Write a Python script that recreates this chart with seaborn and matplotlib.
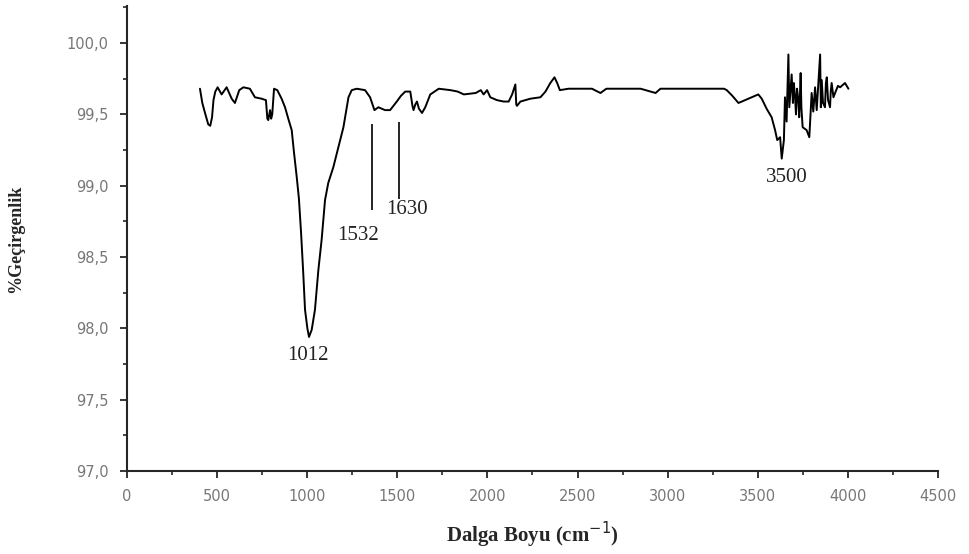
import matplotlib
matplotlib.use("Agg")
import matplotlib.pyplot as plt
from matplotlib.ticker import MultipleLocator, FuncFormatter
import seaborn as sns
import pandas as pd

# FTIR spectrum: wavenumber (cm-1) and transmittance (%)
wavenumber = [
    405, 418, 433, 451, 462, 472, 480, 490, 503, 525, 553, 581, 599, 623, 646,
    682, 710, 747, 771, 779, 784, 794, 800, 806, 816, 834, 858, 877, 895, 914,
    927, 942, 954, 966, 978, 988, 1001, 1010, 1025, 1043, 1062, 1080, 1099,
    1117, 1145, 1173, 1201, 1229, 1247, 1275, 1321, 1349, 1373, 1395, 1432,
    1460, 1497, 1520, 1544, 1572, 1584, 1590, 1600, 1609, 1620, 1637, 1655,
    1683, 1730, 1795, 1835, 1869, 1935, 1963, 1979, 1998, 2016, 2053, 2090,
    2118, 2137, 2155, 2160, 2164, 2183, 2238, 2294, 2322, 2349, 2372, 2387,
    2402, 2450, 2520, 2580, 2627, 2660, 2750, 2850, 2933, 2960, 3050, 3150,
    3250, 3313, 3328, 3359, 3393, 3430, 3467, 3503, 3522, 3549, 3577, 3596,
    3608, 3624, 3633, 3645, 3651, 3660, 3670, 3675, 3679, 3688, 3695, 3700,
    3707, 3712, 3718, 3725, 3730, 3738, 3742, 3749, 3760, 3771, 3786, 3799,
    3808, 3818, 3827, 3838, 3846, 3850, 3855, 3862, 3873, 3878, 3883, 3890,
    3901, 3905, 3910, 3920, 3929, 3945, 3957, 3984, 4003,
]
transmittance = [
    99.68, 99.58, 99.51, 99.43, 99.42, 99.48, 99.60, 99.66, 99.69, 99.64,
    99.69, 99.61, 99.58, 99.67, 99.69, 99.68, 99.62, 99.61, 99.60, 99.47,
    99.46, 99.53, 99.47, 99.50, 99.68, 99.67, 99.61, 99.55, 99.47, 99.39,
    99.23, 99.06, 98.91, 98.67, 98.39, 98.13, 98.00, 97.94, 97.99, 98.13,
    98.41, 98.62, 98.90, 99.02, 99.13, 99.27, 99.41, 99.62, 99.67, 99.68,
    99.67, 99.62, 99.53, 99.55, 99.53, 99.53, 99.59, 99.63, 99.66, 99.66,
    99.56, 99.53, 99.57, 99.59, 99.54, 99.51, 99.55, 99.64, 99.68, 99.67,
    99.66, 99.64, 99.65, 99.67, 99.64, 99.67, 99.62, 99.60, 99.59, 99.59,
    99.64, 99.71, 99.57, 99.56, 99.59, 99.61, 99.62, 99.66, 99.72, 99.76,
    99.72, 99.67, 99.68, 99.68, 99.68, 99.65, 99.68, 99.68, 99.68, 99.65,
    99.68, 99.68, 99.68, 99.68, 99.68, 99.67, 99.63, 99.58, 99.60, 99.62,
    99.64, 99.61, 99.54, 99.48, 99.39, 99.32, 99.34, 99.19, 99.32, 99.62,
    99.45, 99.92, 99.55, 99.62, 99.78, 99.58, 99.72, 99.62, 99.50, 99.68,
    99.60, 99.48, 99.79, 99.55, 99.41, 99.40, 99.39, 99.34, 99.65, 99.52,
    99.69, 99.53, 99.75, 99.92, 99.55, 99.74, 99.58, 99.55, 99.72, 99.76,
    99.60, 99.55, 99.66, 99.72, 99.62, 99.65, 99.70, 99.69, 99.72, 99.68,
]

# Peak labels and their positions in data units
peak_labels = ["1012", "1532", "1630", "3500"]
peak_label_x = [1005, 1284, 1556, 3661]
peak_label_y = [97.81, 98.65, 98.83, 99.06]

# Marker lines pointing at the 1532 and 1630 bands
marker_x = [1361, 1510]
marker_top = [99.43, 99.45]
marker_bottom = [98.83, 98.91]

df = pd.DataFrame({"Dalga Boyu": wavenumber, "Geçirgenlik": transmittance})

sns.set_style("ticks")
fig = plt.figure(figsize=(9.7, 5.54), dpi=100)
ax = fig.add_axes([0.1309, 0.1498, 0.8361, 0.8394])

sns.lineplot(data=df, x="Dalga Boyu", y="Geçirgenlik", ax=ax, color="black",
             linewidth=1.4, sort=False, estimator=None)

for mx, top, bot in zip(marker_x, marker_top, marker_bottom):
    ax.vlines(mx, bot, top, color="black", linewidth=1.2)

for txt, tx, ty in zip(peak_labels, peak_label_x, peak_label_y):
    ax.text(tx, ty, txt, ha="center", va="center", fontsize=15,
            family="Liberation Serif", color="#222222")

ax.set_xlim(0, 4500)
ax.set_ylim(97.0, 100.26)
ax.xaxis.set_major_locator(MultipleLocator(500))
ax.xaxis.set_minor_locator(MultipleLocator(250))
ax.yaxis.set_major_locator(MultipleLocator(0.5))
ax.yaxis.set_minor_locator(MultipleLocator(0.25))
ax.yaxis.set_major_formatter(FuncFormatter(lambda v, p: f"{v:.1f}".replace(".", ",")))
ax.xaxis.set_major_formatter(FuncFormatter(lambda v, p: f"{int(v)}"))

ax.tick_params(axis="both", which="major", direction="out", length=5, width=1.3,
               labelsize=10.5, labelcolor="#777777", pad=8)
ax.tick_params(axis="both", which="minor", direction="out", length=3, width=1.2)

for side in ("top", "right"):
    ax.spines[side].set_visible(False)
for side in ("left", "bottom"):
    ax.spines[side].set_linewidth(1.5)

ax.set_xlabel("Dalga Boyu (cm$^{\\mathsf{-1}}$)", family="Liberation Serif",
              fontweight="bold", fontsize=15, labelpad=11)
ax.set_ylabel("%Geçirgenlik", family="Liberation Serif", fontweight="bold",
              fontsize=13)
ax.yaxis.set_label_coords(-0.127, 0.5)

fig.savefig("out.png", dpi=100)
